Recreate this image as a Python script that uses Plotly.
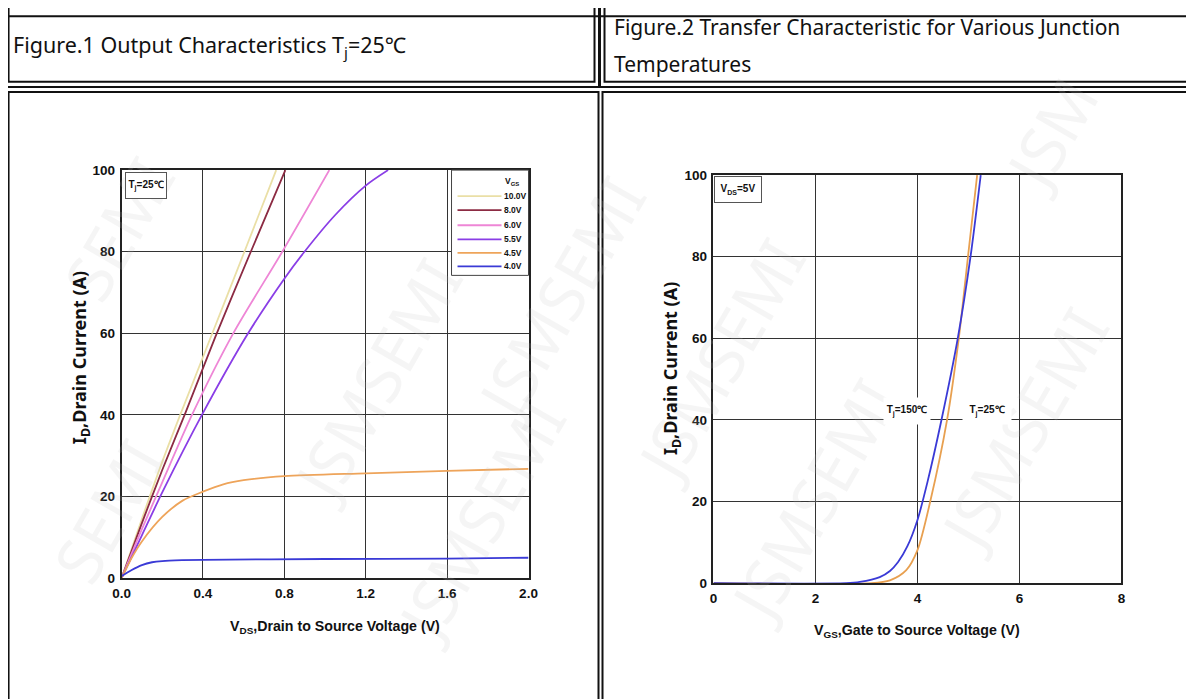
import plotly.graph_objects as go

# ---------------- data: Figure 1 (output characteristics) ----------------
vgs_labels = ["10.0V", "8.0V", "6.0V", "5.5V", "4.5V", "4.0V"]
vgs_colors = ["#eadfa6", "#8c2b43", "#ee86d6", "#8a3ee6", "#eea45a", "#3a3ad6"]

vds_10 = [0.0, 0.1, 0.2, 0.3, 0.45, 0.6, 0.76]
id_10 = [0.0, 14.5, 28.5, 41.5, 60.5, 79.5, 100]

vds_8 = [0.0, 0.1, 0.2, 0.314, 0.46, 0.631, 0.805]
id_8 = [0.0, 13.5, 26.5, 40.5, 59, 79.5, 100]

vds_6 = [0.0, 0.1, 0.2, 0.346, 0.549, 0.79, 1.021]
id_6 = [0.0, 12, 23.5, 40, 60, 80, 100]

vds_55 = [0.0, 0.1, 0.2, 0.395, 0.622, 0.8, 0.899, 1.05, 1.2, 1.31]
id_55 = [0.0, 10.5, 21, 40, 60, 73.4, 80, 89, 96.2, 100]

vds_45 = [0.0, 0.05, 0.1, 0.2, 0.3, 0.4, 0.5, 0.6, 0.8, 1.2, 1.6, 2.0]
id_45 = [0.0, 5, 9, 15, 19, 21.2, 23, 24, 25, 25.7, 26.3, 26.8]

vds_4 = [0.0, 0.05, 0.1, 0.15, 0.2, 0.3, 0.4, 1.0, 1.6, 2.0]
id_4 = [0.5, 2.0, 3.2, 3.9, 4.2, 4.4, 4.5, 4.7, 4.8, 5.0]

fig1_x = [vds_10, vds_8, vds_6, vds_55, vds_45, vds_4]
fig1_y = [id_10, id_8, id_6, id_55, id_45, id_4]

# ---------------- data: Figure 2 (transfer characteristics) ----------------
vgs_25 = [0.0, 3.1, 3.46, 3.78, 4.0, 4.25, 4.58, 4.81, 4.99, 5.17]
id_25 = [0.0, 0.0, 0.7, 3.2, 8.1, 20, 40, 60, 80, 100]

vgs_150 = [0.0, 2.6, 2.87, 3.26, 3.46, 3.62, 3.8, 4.0, 4.2, 4.47, 4.79, 5.04, 5.24]
id_150 = [0.0, 0.0, 0.3, 1.5, 3.0, 5.2, 9.0, 15.5, 25, 40, 60, 80, 100]

fig1_xticks = [0.0, 0.4, 0.8, 1.2, 1.6, 2.0]
fig1_yticks = [0, 20, 40, 60, 80, 100]
fig2_xticks = [0, 2, 4, 6, 8]
fig2_yticks = [0, 20, 40, 60, 80, 100]

# ---------------- page geometry ----------------
FW, FH = 1194, 699
SX, SY, M = 0.985, 0.976, 16.7   # observed page-to-photo transform

def px(x):
    return (x / SX - M) / FW

def py(y):
    return 1 - (y / SY - M) / FH

NARROW = "Liberation Sans Narrow, Arial Narrow, Liberation Sans, Arial, sans-serif"
WIDE = "Noto Sans, Open Sans, DejaVu Sans, sans-serif"
INK = "#111"

fig = go.Figure()

for lab, col, xs, ys in zip(vgs_labels, vgs_colors, fig1_x, fig1_y):
    fig.add_trace(go.Scatter(
        x=xs, y=ys, mode="lines", name=lab,
        line=dict(color=col, width=1.8, shape="spline", smoothing=0.8),
        xaxis="x", yaxis="y", showlegend=False))

fig.add_trace(go.Scatter(x=vgs_25, y=id_25, mode="lines", name="Tj=25℃",
                         line=dict(color="#e8a050", width=1.8, shape="spline", smoothing=0.8),
                         xaxis="x2", yaxis="y2", showlegend=False))
fig.add_trace(go.Scatter(x=vgs_150, y=id_150, mode="lines", name="Tj=150℃",
                         line=dict(color="#3a3ad6", width=1.8, shape="spline", smoothing=0.8),
                         xaxis="x2", yaxis="y2", showlegend=False))

axis_common = dict(showline=True, linecolor="#222", linewidth=1.6, mirror=True,
                   showgrid=True, gridcolor="#333", gridwidth=1.3, zeroline=False,
                   ticks="", ticklabelstandoff=2,
                   tickfont=dict(family=NARROW, size=13.5, color=INK, weight="bold"))

fig.update_layout(
    width=FW, height=FH, margin=dict(l=0, r=0, t=0, b=0),
    paper_bgcolor="white", plot_bgcolor="white", showlegend=False,
    xaxis=dict(domain=[px(121), px(528)], range=[0, 2.0], tickvals=fig1_xticks,
               ticktext=[f"{v:.1f}" for v in fig1_xticks], anchor="y", **axis_common),
    yaxis=dict(domain=[py(578), py(171)], range=[0, 100], tickvals=fig1_yticks, anchor="x", **axis_common),
    xaxis2=dict(domain=[px(713), px(1121)], range=[0, 8], tickvals=fig2_xticks, anchor="y2", **axis_common),
    yaxis2=dict(domain=[py(583), py(176)], range=[0, 100], tickvals=fig2_yticks, anchor="x2", **axis_common),
)

shapes = []
def rect(x0, y0, x1, y1, w=2, color=INK, fill="rgba(0,0,0,0)"):
    shapes.append(dict(type="rect", xref="paper", yref="paper",
                       x0=px(x0), x1=px(x1), y0=py(y0), y1=py(y1),
                       line=dict(color=color, width=w), fillcolor=fill, layer="above"))

def hline(x0, x1, y, w=2):
    shapes.append(dict(type="line", xref="paper", yref="paper", x0=px(x0), x1=px(x1),
                       y0=py(y), y1=py(y), line=dict(color=INK, width=w), layer="above"))

# header table
rect(2, 2, 1192, 88, w=2)
rect(8, 8, 594, 83, w=2)
rect(604, 8, 1189, 83, w=2)
hline(2, 1192, 17.5, w=2)
shapes.append(dict(type="line", xref="paper", yref="paper", x0=px(599), x1=px(599), y0=py(2), y1=py(88),
                   line=dict(color=INK, width=3)))
# lower boxes
rect(8, 93, 598, 705, w=2)
rect(602, 93, 1192, 705, w=2)

# legend box for figure 1
rect(451, 171, 528, 276, w=1, color="#444", fill="white")
leg_y = [197, 211, 226, 240, 253.5, 267]
for col, yy in zip(vgs_colors, leg_y):
    shapes.append(dict(type="line", xref="paper", yref="paper", x0=px(457), x1=px(501),
                       y0=py(yy), y1=py(yy), line=dict(color=col, width=1.8), layer="above"))
fig.update_layout(shapes=shapes)

ann = []
# watermarks
wm = [(40, 140, "SEMI"), (270, 380, "JSMSEMI"), (30, 600, "SEMI"), (720, 360, "JSMSEMI"),
      (1130, 430, "JSMSEMI"), (480, 660, "JSMSEMI"), (920, 640, "JSMSEMI"), (560, 160, "JSMSEMI"),
      (1120, 60, "JSM")]
for x, y, t in wm:
    ann.append(dict(xref="paper", yref="paper", x=px(x), y=py(y), text=t, showarrow=False,
                    textangle=-60, font=dict(family=WIDE, size=64, color="rgba(190,190,190,0.16)")))

# header titles
ann.append(dict(xref="paper", yref="paper", x=px(10), y=py(47), xanchor="left", yanchor="middle",
                text="Figure.1 Output Characteristics T<sub>j</sub>=25℃", showarrow=False,
                font=dict(family=WIDE, size=21.5, color=INK)))
ann.append(dict(xref="paper", yref="paper", x=px(611), y=py(28), xanchor="left", yanchor="middle",
                text="Figure.2 Transfer Characteristic for Various Junction", showarrow=False,
                font=dict(family=WIDE, size=21, color=INK)))
ann.append(dict(xref="paper", yref="paper", x=px(611), y=py(65), xanchor="left", yanchor="middle",
                text="Temperatures", showarrow=False,
                font=dict(family=WIDE, size=21, color=INK)))

# axis titles
ann.append(dict(xref="paper", yref="paper", x=px(334), y=py(627), xanchor="center", yanchor="middle",
                text="V<sub>DS</sub>,Drain to Source Voltage (V)", showarrow=False,
                font=dict(family=NARROW, size=14.2, color=INK, weight="bold")))
ann.append(dict(xref="paper", yref="paper", x=px(917), y=py(631), xanchor="center", yanchor="middle",
                text="V<sub>GS</sub>,Gate to Source Voltage (V)", showarrow=False,
                font=dict(family=NARROW, size=14.2, color=INK, weight="bold")))
ann.append(dict(xref="paper", yref="paper", x=px(80), y=py(358), xanchor="center", yanchor="middle",
                text="I<sub>D</sub>,Drain Current (A)", showarrow=False, textangle=-90,
                font=dict(family=WIDE, size=18, color=INK, weight="bold")))
ann.append(dict(xref="paper", yref="paper", x=px(671), y=py(369), xanchor="center", yanchor="middle",
                text="I<sub>D</sub>,Drain Current (A)", showarrow=False, textangle=-90,
                font=dict(family=WIDE, size=18, color=INK, weight="bold")))

# legend texts
ann.append(dict(xref="paper", yref="paper", x=px(511), y=py(182), xanchor="center", yanchor="middle",
                text="V<sub>GS</sub>", showarrow=False,
                font=dict(family=NARROW, size=8.5, color=INK, weight="bold")))
for lab, yy in zip(vgs_labels, leg_y):
    ann.append(dict(xref="paper", yref="paper", x=px(501), y=py(yy), xanchor="left", yanchor="middle",
                    text=lab, showarrow=False,
                    font=dict(family=NARROW, size=8.5, color=INK, weight="bold")))

# in-plot labels
ann.append(dict(xref="paper", yref="paper", x=px(124), y=py(173), xanchor="left", yanchor="top",
                text="T<sub>j</sub>=25℃", showarrow=False, bgcolor="white", width=36, height=21,
                bordercolor="#555", borderwidth=1, borderpad=2,
                font=dict(family=NARROW, size=10, color=INK, weight="bold")))
ann.append(dict(xref="paper", yref="paper", x=px(714), y=py(177), xanchor="left", yanchor="top",
                text="V<sub>DS</sub>=5V", showarrow=False, bgcolor="white", width=42, height=21,
                bordercolor="#555", borderwidth=1, borderpad=2,
                font=dict(family=NARROW, size=10, color=INK, weight="bold")))
ann.append(dict(xref="x2", yref="y2", x=3.8, y=42.3, text="T<sub>j</sub>=150℃", showarrow=False,
                bgcolor="white", width=46, height=26, borderpad=0,
                font=dict(family=NARROW, size=10, color=INK, weight="bold")))
ann.append(dict(xref="x2", yref="y2", x=5.36, y=42.3, text="T<sub>j</sub>=25℃", showarrow=False,
                bgcolor="white", width=48, height=26, borderpad=0,
                font=dict(family=NARROW, size=10, color=INK, weight="bold")))

fig.update_layout(annotations=ann)
fig.write_html("out.html")
